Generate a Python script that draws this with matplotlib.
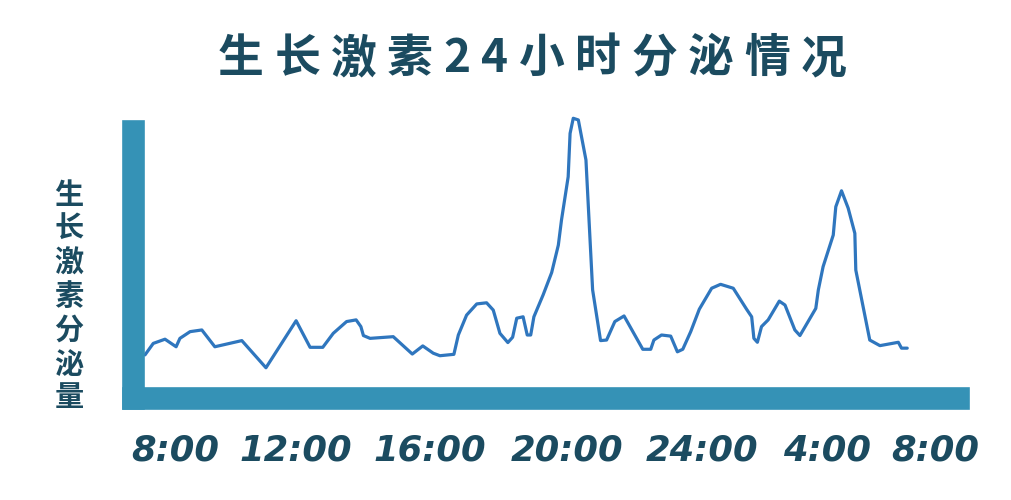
import matplotlib.pyplot as plt

plt.rcParams['font.family'] = ['Noto Sans CJK SC', 'DejaVu Sans']

# hours after 8:00 and secretion level (arbitrary units)
hours = [0, 0.26, 0.63, 0.98, 1.10, 1.42, 1.79, 2.20, 3.05, 3.81,
         4.76, 5.20, 5.60, 5.93, 6.35, 6.65, 6.80, 6.88, 7.09, 7.82,
         8.42, 8.75, 9.08, 9.29, 9.73, 9.87, 10.13, 10.45, 10.76, 10.97,
         11.18, 11.43, 11.58, 11.71, 11.91, 12.04, 12.15, 12.25, 12.54, 12.81,
         13.02, 13.12, 13.33, 13.39, 13.49, 13.65, 13.89, 14.10, 14.35, 14.54,
         14.80, 15.09, 15.68, 15.93, 16.03, 16.27, 16.56, 16.77, 16.94, 17.19,
         17.46, 17.85, 18.13, 18.53, 18.95, 19.11, 19.18, 19.29, 19.42, 19.63,
         19.98, 20.16, 20.47, 20.63, 21.13, 21.21, 21.36, 21.68, 21.76, 21.94,
         22.15, 22.36, 22.39, 22.83, 23.15, 23.73, 23.83, 24.01]
level = [15.4, 19.5, 21.0, 18.3, 21.3, 23.7, 24.3, 18.3, 20.5, 10.8,
         27.6, 18.1, 18.1, 23.1, 27.3, 27.9, 25.5, 22.3, 21.3, 21.9,
         15.7, 18.6, 16.0, 15.1, 15.6, 22.5, 29.6, 33.6, 34.0, 31.4,
         23.1, 19.8, 21.7, 28.5, 29.0, 22.5, 22.5, 29.0, 36.8, 44.8,
         54.6, 63.6, 79.0, 94.5, 99.9, 99.3, 85.0, 38.6, 20.5, 20.7,
         27.3, 29.3, 17.4, 17.4, 20.7, 22.5, 22.1, 16.5, 17.4, 23.7,
         31.7, 39.2, 40.6, 39.2, 31.7, 29.0, 21.3, 19.9, 25.5, 27.9,
         34.6, 33.2, 24.3, 22.3, 32.0, 38.6, 46.9, 58.2, 68.3, 74.0,
         67.8, 58.8, 45.7, 20.7, 18.7, 19.9, 17.8, 17.8]

tick_labels = ['8:00', '12:00', '16:00', '20:00', '24:00', '4:00', '8:00']
tick_pos = [0.94, 4.76, 8.98, 13.29, 17.56, 21.47, 24.88]

title = '生长激素24小时分泌情况'
ylabel = '生长激素分泌量'

dark = '#1b4b60'
bar = '#3592b6'
line = '#2f76be'

fig = plt.figure(figsize=(10.11, 5), dpi=100)
ax = fig.add_axes([133 / 1011, 102 / 500, 824.7 / 1011, 267.4 / 500])

ax.plot(hours, level, color=line, linewidth=2.3, clip_on=False,
        solid_joinstyle='round', solid_capstyle='round')
ax.set_xlim(-0.378, 25.60)
ax.set_ylim(0, 95.5)

for side in ['top', 'right']:
    ax.spines[side].set_visible(False)
for side in ['left', 'bottom']:
    ax.spines[side].set_linewidth(16.3)
    ax.spines[side].set_color(bar)
    ax.spines[side].set_capstyle('projecting')
ax.set_yticks([])
ax.set_xticks([])

for p, lab in zip(tick_pos, tick_labels):
    ax.text(p, -0.234, lab, transform=ax.get_xaxis_transform(),
            ha='center', va='baseline', fontsize=25.5, color=dark,
            family='DejaVu Sans', fontweight='bold', fontstyle='oblique')

# title, one character at a time for the wide letter spacing
renderer = fig.canvas.get_renderer()
x = 218 / 1011
for ch in title:
    t = fig.text(x, 1 - 59 / 500, ch, ha='left', va='center', fontsize=33,
                 color=dark, fontweight='heavy')
    w = t.get_window_extent(renderer).width
    x += (w + 10.5) / 1011

for i, ch in enumerate(ylabel):
    fig.text(69 / 1011, 1 - (195 + i * 33.7) / 500, ch, ha='center',
             va='center', fontsize=21, color=dark, fontweight='heavy')

fig.savefig('out.png', dpi=100)
